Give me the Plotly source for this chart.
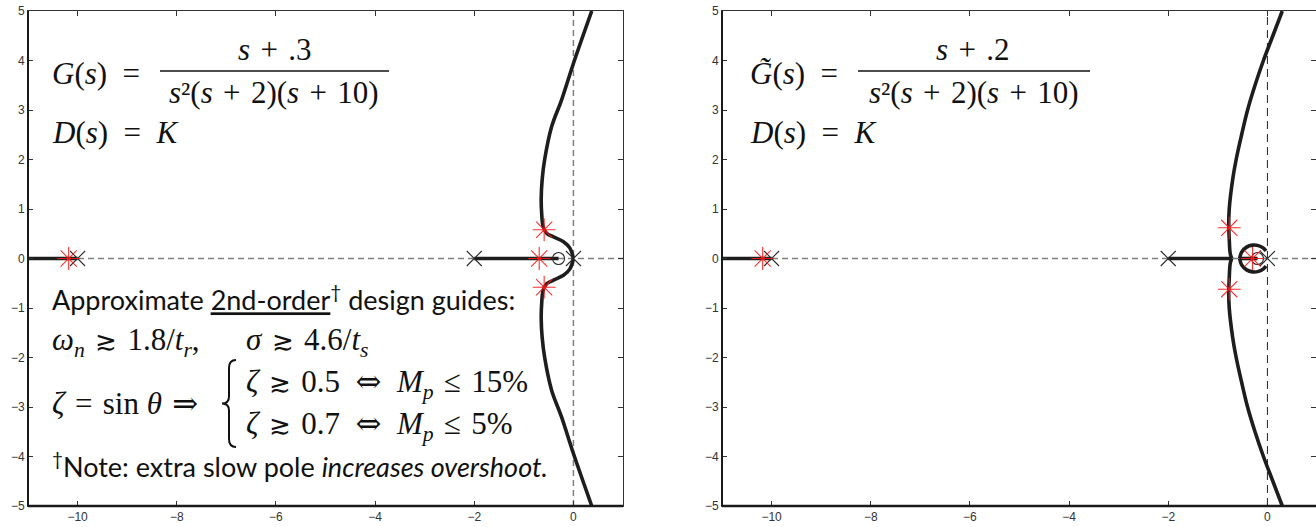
import plotly.graph_objects as go

# ---------------- data ----------------
# open-loop poles (s = 0 is a double pole) and zeros
pole_re = [0.0, -2.0, -10.0]
zero_left = -0.3
zero_right = -0.2

# real-axis parts of the locus: (from, to)
left_real_segments = [(-12.0, -10.0), (-2.0, -0.3)]
right_real_segments = [(-12.0, -10.0), (-2.0, -0.72), (-0.56, -0.2)]

# upper complex branch of G(s) = (s+.3)/(s^2 (s+2)(s+10)); lower one is its mirror
left_branch_re = [0.0, -0.07, -0.20, -0.41, -0.54, -0.61, -0.64, -0.65, -0.63, -0.58, -0.44, -0.24, 0.0, 0.37]
left_branch_im = [0.0, 0.21, 0.34, 0.44, 0.51, 0.64, 0.91, 1.20, 1.60, 2.00, 2.66, 3.20, 3.94, 5.0]

# G~(s) = (s+.2)/(s^2 (s+2)(s+10)): small loop around the zero, then the outer branch
right_loop_re = [-0.03, -0.08, -0.18, -0.30, -0.42, -0.52, -0.56]
right_loop_im = [0.15, 0.21, 0.26, 0.27, 0.23, 0.13, 0.0]
right_branch_re = [-0.72, -0.75, -0.77, -0.78, -0.77, -0.70, -0.63, -0.52, -0.40, -0.25, -0.08, 0.11, 0.30]
right_branch_im = [0.0, 0.10, 0.40, 0.70, 1.00, 1.60, 2.00, 2.50, 3.00, 3.50, 4.00, 4.50, 5.0]

# closed-loop poles at the chosen gain K
left_gain_re = [-10.18, -0.69, -0.59, -0.59]
left_gain_im = [0.0, 0.0, 0.58, -0.58]
right_gain_re = [-10.18, -0.30, -0.77, -0.77]
right_gain_im = [0.0, 0.0, 0.62, -0.62]

x_ticks = [-10, -8, -6, -4, -2, 0]
y_ticks = [-5, -4, -3, -2, -1, 0, 1, 2, 3, 4, 5]

# ---------------- page geometry ----------------
W, H = 1316, 527
ML, MR, MT, MB = 28, 0, 11, 21
PW, PH = W - ML - MR, H - MT - MB


def px(x):
    return (x - ML) / PW


def py(y):
    return (H - MB - y) / PH


LOCUS = "#1d1d1d"
LOCUS_W = 3.6
SERIF = "Liberation Serif, DejaVu Serif"
SANS = "Lato"
MATH = 31
TF = 31

fig = go.Figure()


def add_locus(xa, ya, real_segments, branches, zero, gain_re, gain_im):
    for a, b in real_segments:
        fig.add_trace(go.Scatter(x=[a, b], y=[0, 0], mode="lines",
                                 line=dict(color=LOCUS, width=LOCUS_W),
                                 xaxis=xa, yaxis=ya, hoverinfo="skip"))
    for re, im in branches:
        for sign in (1, -1):
            fig.add_trace(go.Scatter(x=re, y=[sign * v for v in im], mode="lines",
                                     line=dict(color=LOCUS, width=LOCUS_W, shape="spline"),
                                     xaxis=xa, yaxis=ya, hoverinfo="skip"))
    fig.add_trace(go.Scatter(x=pole_re, y=[0] * len(pole_re), mode="markers",
                             marker=dict(symbol="x-thin-open", size=15, color="#2a2a2a",
                                         line=dict(color="#2a2a2a", width=1.1)),
                             xaxis=xa, yaxis=ya, hoverinfo="skip"))
    fig.add_trace(go.Scatter(x=[zero], y=[0], mode="markers",
                             marker=dict(symbol="circle-open", size=12, color="#2a2a2a",
                                         line=dict(color="#2a2a2a", width=1.1)),
                             xaxis=xa, yaxis=ya, hoverinfo="skip"))
    fig.add_trace(go.Scatter(x=gain_re, y=gain_im, mode="markers",
                             marker=dict(symbol="asterisk-open", size=19, color="rgba(255,25,25,0.9)",
                                         line=dict(color="rgba(255,25,25,0.9)", width=1.1)),
                             xaxis=xa, yaxis=ya, hoverinfo="skip"))


add_locus("x", "y", left_real_segments, [(left_branch_re, left_branch_im)],
          zero_left, left_gain_re, left_gain_im)
add_locus("x2", "y2", right_real_segments,
          [(right_loop_re, right_loop_im), (right_branch_re, right_branch_im)],
          zero_right, right_gain_re, right_gain_im)

# real and imaginary axes (dashed)
for xr, yr, vcol, vwid, vdash in (("x", "y", "#808080", 1.5, "6px,4px"),
                                  ("x2", "y2", "#222222", 1.0, "8px,5px")):
    fig.add_shape(type="line", xref=f"{xr} domain", yref=yr, x0=0, x1=1, y0=0, y1=0,
                  line=dict(color="#808080", width=1.5, dash="6px,4px"), layer="below")
    fig.add_shape(type="line", xref=xr, yref=f"{yr} domain", x0=0, x1=0, y0=0, y1=1,
                  line=dict(color=vcol, width=vwid, dash=vdash), layer="below")
    # heavier left and bottom frame edges
    fig.add_shape(type="line", xref=f"{xr} domain", yref=f"{yr} domain", x0=0, x1=1, y0=0, y1=0,
                  line=dict(color="#1a1a1a", width=2.4))
    fig.add_shape(type="line", xref=f"{xr} domain", yref=f"{yr} domain", x0=0, x1=0, y0=0, y1=1,
                  line=dict(color="#1a1a1a", width=2))

axis_common = dict(showline=True, linecolor="#333333", linewidth=1, mirror="ticks",
                   ticks="inside", ticklen=5, tickcolor="#333333", tickwidth=1,
                   showgrid=False, zeroline=False,
                   tickfont=dict(family="Liberation Sans", size=12, color="#333333"))

fig.update_layout(
    width=W, height=H, margin=dict(l=ML, r=MR, t=MT, b=MB),
    paper_bgcolor="white", plot_bgcolor="white", showlegend=False,
    xaxis=dict(domain=[0, px(623)], range=[-11, 1], tickvals=x_ticks, anchor="y", **axis_common),
    yaxis=dict(domain=[0, 1], range=[-5, 5], tickvals=y_ticks, anchor="x", **axis_common),
    xaxis2=dict(domain=[px(722), 1], range=[-11, 0.98], tickvals=x_ticks, anchor="y2", **axis_common),
    yaxis2=dict(domain=[0, 1], range=[-5, 5], tickvals=y_ticks, anchor="x2", **axis_common),
)


def note(x, y, text, size=MATH, family=SERIF, xanchor="left"):
    fig.add_annotation(xref="paper", yref="paper", x=px(x), y=py(y), text=text,
                       showarrow=False, xanchor=xanchor, yanchor="middle",
                       font=dict(family=family, size=size, color="#111111"))


def fraction_bar(x0, x1, y):
    fig.add_shape(type="line", xref="paper", yref="paper", x0=px(x0), x1=px(x1),
                  y0=py(y), y1=py(y), line=dict(color="#111111", width=1.3))


SP = "\u2005"          # medium math space
REL = "\u2004"         # thick space around relations
EN = "\u2002"
ge = '<span style="font-family:DejaVu Serif;font-size:85%">≳</span>'
iff = '<span style="font-family:DejaVu Serif">⇔</span>'

num_left = f"<i>s</i>{REL}+{REL}.3"
num_right = f"<i>s</i>{REL}+{REL}.2"
den = f"<i>s</i>²(<i>s</i>{REL}+{REL}2)(<i>s</i>{REL}+{REL}10)"
dk = f"<i>D</i>(<i>s</i>){EN}={EN}<i>K</i>"

# transfer functions
note(50, 73, f"<i>G</i>(<i>s</i>){EN}=", size=TF)
note(275, 50, num_left, size=TF, xanchor="center")
fraction_bar(160, 389, 71)
note(274, 92, den, size=TF, xanchor="center")
note(50, 132, dk, size=TF)

note(748, 73, f"<i>G̃</i>(<i>s</i>){EN}=", size=TF)
note(973, 50, num_right, size=TF, xanchor="center")
fraction_bar(858, 1090, 71)
note(974, 92, den, size=TF, xanchor="center")
note(748, 132, dk, size=TF)

# design guides
note(50, 298, "Approximate <u>2nd-order</u><sup>†</sup> design guides:", size=27, family=SANS)
note(50, 342, f"<i>ω<sub>n</sub></i>{REL}{ge}{REL}1.8/<i>t<sub>r</sub></i>,{EN}{EN}{EN}"
              f"<i>σ</i>{REL}{ge}{REL}4.6/<i>t<sub>s</sub></i>")
note(50, 403, f"<i>ζ</i>{REL}={REL}sin{SP}<i>θ</i>{REL}⇒")
note(244, 383, f"<i>ζ</i>{REL}{ge}{REL}0.5{EN}{iff}{EN}<i>M<sub>p</sub></i>{REL}≤{REL}15%")
note(244, 425, f"<i>ζ</i>{REL}{ge}{REL}0.7{EN}{iff}{EN}<i>M<sub>p</sub></i>{REL}≤{REL}5%")
note(50, 465, "<sup>†</sup>Note: extra slow pole <i>increases overshoot.</i>", size=27, family=SANS)

# curly brace grouping the two cases
bx, bt, bb = 229, 360, 447
bm = (bt + bb) / 2
pts = [(bx + 7, bt), (bx, bt + 8), (bx, bm - 7), (bx - 7, bm), (bx, bm + 7), (bx, bb - 8), (bx + 7, bb)]
path = (f"M {px(pts[0][0])},{py(pts[0][1])} Q {px(bx)},{py(bt)} {px(pts[1][0])},{py(pts[1][1])} "
        f"L {px(pts[2][0])},{py(pts[2][1])} Q {px(bx)},{py(bm)} {px(pts[3][0])},{py(pts[3][1])} "
        f"Q {px(bx)},{py(bm)} {px(pts[4][0])},{py(pts[4][1])} "
        f"L {px(pts[5][0])},{py(pts[5][1])} Q {px(bx)},{py(bb)} {px(pts[6][0])},{py(pts[6][1])}")
fig.add_shape(type="path", xref="paper", yref="paper", path=path,
              line=dict(color="#111111", width=2))

fig.write_html("out.html")
